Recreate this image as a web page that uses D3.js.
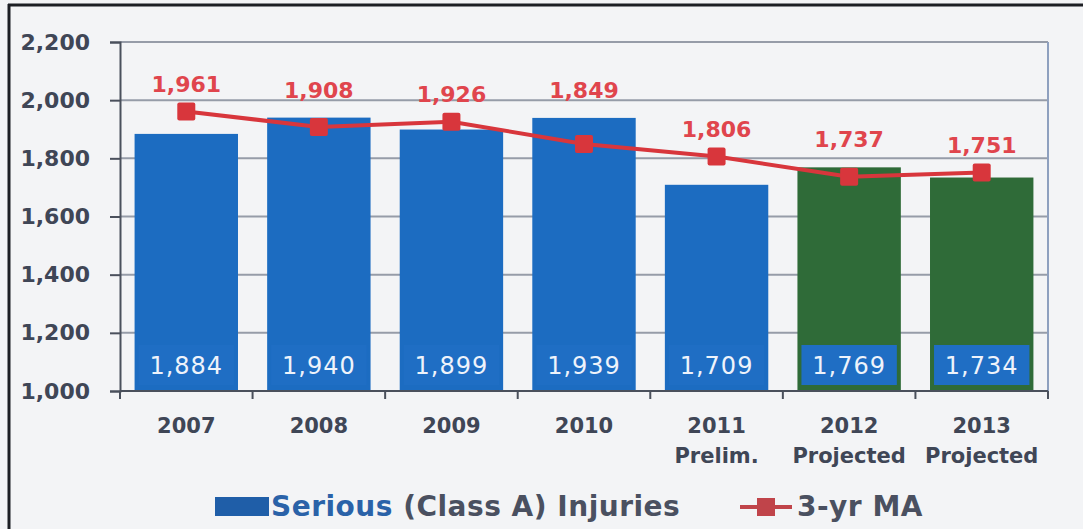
<!DOCTYPE html>
<html>
<head>
<meta charset="utf-8">
<script src="https://cdn.jsdelivr.net/npm/d3@7"></script>
<style>
  body { margin: 0; background: #f3f4f6; }
  svg { display: block; font-family: "DejaVu Sans", Verdana, sans-serif; }
</style>
</head>
<body>
<div id="chart"></div>
<script>
var years = ["2007", "2008", "2009", "2010", "2011", "2012", "2013"],
  sublabels = ["", "", "", "", "Prelim.", "Projected", "Projected"],
  injuries = [1884, 1940, 1899, 1939, 1709, 1769, 1734],
  movingAvg = [1961, 1908, 1926, 1849, 1806, 1737, 1751],
  projected = [false, false, false, false, false, true, true],
  yTicks = [1000, 1200, 1400, 1600, 1800, 2000, 2200];

var width = 1083, height = 529;
var margin = {top: 42, right: 35, bottom: 138, left: 120};

var svg = d3.select("#chart").append("svg")
    .attr("width", width)
    .attr("height", height);

svg.append("rect")
    .attr("width", width)
    .attr("height", height)
    .attr("fill", "#f3f4f6");

// scanned page frame
svg.append("line")
    .attr("x1", 8).attr("x2", width)
    .attr("y1", 5).attr("y2", 5)
    .attr("stroke", "#1d1f24").attr("stroke-width", 3);
svg.append("line")
    .attr("x1", 9).attr("x2", 9)
    .attr("y1", 4).attr("y2", height)
    .attr("stroke", "#1d1f24").attr("stroke-width", 3);

var x = d3.scaleBand()
    .domain(years)
    .range([margin.left, width - margin.right])
    .paddingInner(0.22)
    .paddingOuter(0.11);

var y = d3.scaleLinear()
    .domain([1000, 2200])
    .range([height - margin.bottom, margin.top]);

var step = x.step();

// gridlines
svg.append("g")
    .selectAll("line")
    .data(yTicks.slice(1))
    .enter().append("line")
    .attr("x1", margin.left)
    .attr("x2", width - margin.right)
    .attr("y1", function(d){ return y(d); })
    .attr("y2", function(d){ return y(d); })
    .attr("stroke", "#969ca8")
    .attr("stroke-width", 2);

// right border
svg.append("line")
    .attr("x1", width - margin.right).attr("x2", width - margin.right)
    .attr("y1", y(2200)).attr("y2", y(1000))
    .attr("stroke", "#8ea0bf").attr("stroke-width", 2);

// y axis
var yAxis = svg.append("g")
    .attr("transform", "translate(" + margin.left + ",0)")
    .call(d3.axisLeft(y).tickValues(yTicks).tickSize(10).tickPadding(20)
      .tickFormat(d3.format(",")));
yAxis.selectAll("path, line").attr("stroke", "#4a505c").attr("stroke-width", 2);
yAxis.selectAll("text")
    .attr("font-size", 22)
    .attr("font-weight", "bold")
    .attr("font-family", "DejaVu Sans, Verdana, sans-serif")
    .attr("fill", "#3f4656");

// bars
var bars = svg.append("g").selectAll(".bar")
    .data(years)
    .enter().append("g")
    .attr("class", "bar");

bars.append("rect")
    .attr("x", function(d){ return x(d); })
    .attr("width", x.bandwidth())
    .attr("y", function(d, i){ return y(injuries[i]); })
    .attr("height", function(d, i){ return y(1000) - y(injuries[i]); })
    .attr("fill", function(d, i){ return projected[i] ? "#2f6b38" : "#1c6cc1"; });

// label boxes
bars.append("rect")
    .attr("x", function(d){ return x(d) + 4; })
    .attr("width", x.bandwidth() - 8)
    .attr("y", y(1000) - 46)
    .attr("height", 40)
    .attr("fill", "#1f6ec4");

bars.append("text")
    .attr("x", function(d){ return x(d) + x.bandwidth() / 2; })
    .attr("y", y(1000) - 17)
    .attr("text-anchor", "middle")
    .attr("fill", "#eef3fb")
    .attr("font-size", 24)
    .attr("letter-spacing", 1)
    .text(function(d, i){ return d3.format(",")(injuries[i]); });

// x axis
var xAxisG = svg.append("g")
    .attr("transform", "translate(0," + y(1000) + ")");
xAxisG.append("line")
    .attr("x1", margin.left).attr("x2", width - margin.right)
    .attr("stroke", "#4a505c").attr("stroke-width", 2);
xAxisG.selectAll(".xtick")
    .data(d3.range(years.length + 1))
    .enter().append("line")
    .attr("x1", function(i){ return margin.left + i * step; })
    .attr("x2", function(i){ return margin.left + i * step; })
    .attr("y1", 0).attr("y2", 8)
    .attr("stroke", "#4a505c").attr("stroke-width", 2);

var xl = svg.append("g").selectAll(".xlabel")
    .data(years)
    .enter().append("text")
    .attr("x", function(d){ return x(d) + x.bandwidth() / 2; })
    .attr("y", 433)
    .attr("text-anchor", "middle")
    .attr("fill", "#3f4656")
    .attr("font-weight", "bold")
    .attr("font-size", 21);
xl.append("tspan").text(function(d){ return d; });
xl.append("tspan")
    .attr("x", function(d){ return x(d) + x.bandwidth() / 2; })
    .attr("dy", 30)
    .text(function(d, i){ return sublabels[i]; });

// 3-yr moving average
var line = d3.line()
    .x(function(d, i){ return x(years[i]) + x.bandwidth() / 2; })
    .y(function(d){ return y(d); });

svg.append("path")
    .datum(movingAvg)
    .attr("d", line)
    .attr("fill", "none")
    .attr("stroke", "#d8363c")
    .attr("stroke-width", 4);

svg.append("g").selectAll("rect")
    .data(movingAvg)
    .enter().append("rect")
    .attr("x", function(d, i){ return x(years[i]) + x.bandwidth() / 2 - 9; })
    .attr("y", function(d){ return y(d) - 9; })
    .attr("width", 18)
    .attr("height", 18)
    .attr("rx", 2)
    .attr("fill", "#d8363c");

// labels sit above whichever is higher, the point or the bar
svg.append("g").selectAll("text")
    .data(movingAvg)
    .enter().append("text")
    .attr("x", function(d, i){ return x(years[i]) + x.bandwidth() / 2; })
    .attr("y", function(d, i){ return Math.min(y(d), y(injuries[i])) - 20; })
    .attr("text-anchor", "middle")
    .attr("fill", "#e0454d")
    .attr("font-weight", "bold")
    .attr("font-size", 22)
    .text(function(d){ return d3.format(",")(d); });

// legend
var legend = svg.append("g");
legend.append("rect")
    .attr("x", 215).attr("y", 497)
    .attr("width", 54).attr("height", 19)
    .attr("fill", "#1f5ea8");
var lt = legend.append("text")
    .attr("x", 271).attr("y", 516)
    .attr("font-size", 28)
    .attr("font-weight", "bold")
    .attr("letter-spacing", 0.5)
    .attr("fill", "#4a5060");
lt.append("tspan").attr("fill", "#2a62a8").text("Serious");
lt.append("tspan").text(" (Class A) Injuries");

legend.append("line")
    .attr("x1", 740).attr("x2", 792)
    .attr("y1", 507).attr("y2", 507)
    .attr("stroke", "#c0444a").attr("stroke-width", 4);
legend.append("rect")
    .attr("x", 757).attr("y", 498)
    .attr("width", 18).attr("height", 18)
    .attr("fill", "#c0444a");
legend.append("text")
    .attr("x", 797).attr("y", 516)
    .attr("font-size", 28)
    .attr("font-weight", "bold")
    .attr("letter-spacing", 0.5)
    .attr("fill", "#4a5060")
    .text("3-yr MA");
</script>
</body>
</html>
